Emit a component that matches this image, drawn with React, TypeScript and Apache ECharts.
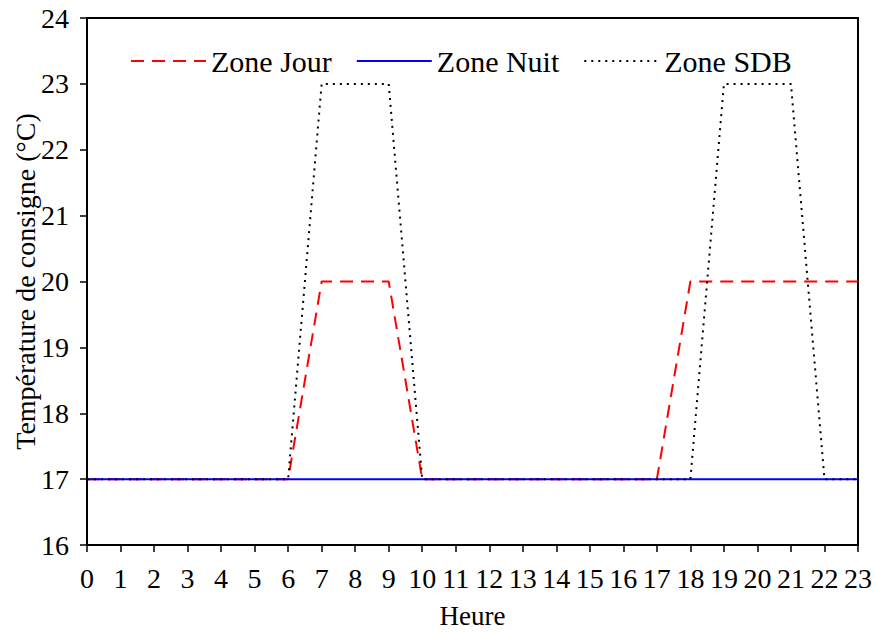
import React, { useEffect, useRef } from "react";
import * as echarts from "echarts";

const hours = ["0","1","2","3","4","5","6","7","8","9","10","11","12","13","14","15","16","17","18","19","20","21","22","23"];
const zoneJour = [17,17,17,17,17,17,17,20,20,20,17,17,17,17,17,17,17,17,20,20,20,20,20,20];
const zoneNuit = [17,17,17,17,17,17,17,17,17,17,17,17,17,17,17,17,17,17,17,17,17,17,17,17];
const zoneSDB = [17,17,17,17,17,17,17,23,23,23,17,17,17,17,17,17,17,17,17,23,23,23,17,17];

const FONT = "'Liberation Serif', 'Times New Roman', serif";

export default function App() {
  const ref = useRef<HTMLDivElement>(null);
  useEffect(() => {
    if (!ref.current) return;
    const chart = echarts.init(ref.current, null, { renderer: "svg" });
    chart.setOption({
      animation: false,
      backgroundColor: "#fff",
      textStyle: { fontFamily: FONT, color: "#000" },
      grid: {
        left: 87, right: 18, top: 18, bottom: 88,
        show: true, borderColor: "#000", borderWidth: 2,
        containLabel: false, outerBoundsMode: "none",
      },
      legend: {
        left: 125,
        top: 41,
        itemWidth: 75,
        itemHeight: 14,
        itemGap: 24,
        itemStyle: { opacity: 0 },
        textStyle: { fontFamily: FONT, fontSize: 30, color: "#000" },
        data: ["Zone Jour", "Zone Nuit", "Zone SDB"],
      },
      xAxis: {
        type: "category",
        data: hours,
        boundaryGap: false,
        name: "Heure",
        nameLocation: "middle",
        nameGap: 57,
        nameTextStyle: { fontFamily: FONT, fontSize: 27, color: "#000" },
        axisLine: { lineStyle: { color: "#000", width: 2 } },
        axisTick: { show: true, length: 7, lineStyle: { color: "#000", width: 1.5 }, alignWithLabel: true },
        axisLabel: { fontFamily: FONT, fontSize: 28, color: "#000", margin: 19, interval: 0 },
        splitLine: { show: false },
      },
      yAxis: {
        type: "value",
        min: 16,
        max: 24,
        interval: 1,
        name: "Température de consigne (°C)",
        nameLocation: "middle",
        nameGap: 48,
        nameMoveOverlap: false,
        nameTextStyle: { fontFamily: FONT, fontSize: 28, color: "#000" },
        axisLine: { show: true, lineStyle: { color: "#000", width: 2 } },
        axisTick: { show: true, length: 7, lineStyle: { color: "#000", width: 1.5 } },
        axisLabel: { fontFamily: FONT, fontSize: 28, color: "#000", margin: 18 },
        splitLine: { show: false },
      },
      series: [
        {
          name: "Zone Jour",
          type: "line",
          data: zoneJour,
          symbol: "none",
          itemStyle: { color: "#ff0000" },
          lineStyle: { color: "#ff0000", width: 2, type: [13, 8] },
        },
        {
          name: "Zone Nuit",
          type: "line",
          data: zoneNuit,
          symbol: "none",
          itemStyle: { color: "#0000ff" },
          lineStyle: { color: "#0000ff", width: 2, type: "solid" },
        },
        {
          name: "Zone SDB",
          type: "line",
          data: zoneSDB,
          symbol: "none",
          itemStyle: { color: "#000" },
          lineStyle: { color: "#000", width: 2, type: [2, 5] },
        },
      ],
    });
    return () => chart.dispose();
  }, []);
  return <div ref={ref} style={{ width: 876, height: 633, position: "absolute", left: 0, top: 0 }} />;
}
